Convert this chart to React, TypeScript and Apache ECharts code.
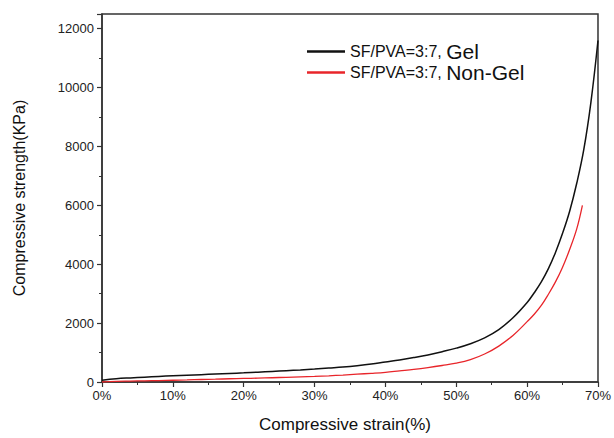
import React, { useEffect, useRef } from "react";
import * as echarts from "echarts";

const gelStrain = [0, 2, 4, 6, 8, 10, 12, 14, 16, 18, 20, 22, 24, 26, 28, 30, 32, 34, 36, 38, 40, 42, 44, 46, 48, 50, 52, 54, 56, 58, 60, 61, 62, 63, 64, 65, 66, 67, 68, 69, 70];
const gelStrength = [60, 110, 140, 165, 190, 210, 230, 250, 270, 290, 310, 335, 360, 385, 410, 440, 475, 510, 555, 610, 680, 750, 830, 920, 1030, 1150, 1300, 1500, 1780, 2180, 2700, 3030, 3400, 3850, 4400, 5050, 5800, 6750, 7900, 9500, 11600];

const nonGelStrain = [0, 2, 4, 6, 8, 10, 12, 14, 16, 18, 20, 22, 24, 26, 28, 30, 32, 34, 36, 38, 40, 42, 44, 46, 48, 50, 52, 54, 56, 58, 60, 61, 62, 63, 64, 65, 66, 67, 67.8];
const nonGelStrength = [0, 20, 30, 40, 50, 60, 70, 85, 95, 110, 120, 130, 145, 160, 175, 190, 210, 235, 265, 295, 330, 380, 430, 490, 560, 640, 760, 950, 1220, 1580, 2050, 2300, 2600, 2980, 3400, 3900, 4500, 5200, 6000];

const xTicks = { min: 0, max: 70, interval: 10 };
const yTicks = { min: 0, max: 12500, interval: 2000 };

const seriesNames = ["SF/PVA=3:7, Gel", "SF/PVA=3:7, Non-Gel"];

const FONT = "'Liberation Sans', Arial, Helvetica, sans-serif";

export default function App() {
  const ref = useRef<HTMLDivElement>(null);
  useEffect(() => {
    if (!ref.current) return;
    const chart = echarts.init(ref.current, undefined, { renderer: "svg" });
    const zip = (xs: number[], ys: number[]) => xs.map((x, i) => [x, ys[i]]);
    chart.setOption({
      animation: false,
      backgroundColor: "#ffffff",
      textStyle: { fontFamily: FONT },
      grid: {
        left: 102,
        right: 14,
        top: 14,
        bottom: 56,
        show: true,
        borderColor: "#333",
        borderWidth: 1.5,
      },
      legend: {
        left: 302,
        top: 36,
        orient: "vertical",
        itemGap: 0,
        itemWidth: 38,
        itemHeight: 10,
        icon: "path://M0,0 L1,0 L1,0.06 L0,0.06 Z",
        data: seriesNames,
        formatter: (name: string) => {
          const idx = name.indexOf(", ");
          return "{a|" + name.slice(0, idx + 1) + " }{b|" + name.slice(idx + 2) + "}";
        },
        textStyle: {
          rich: {
            a: { fontSize: 16, color: "#111", fontFamily: FONT },
            b: { fontSize: 21, color: "#111", fontFamily: FONT },
          },
        },
      },
      xAxis: {
        type: "value",
        min: xTicks.min,
        max: xTicks.max,
        interval: xTicks.interval,
        name: "Compressive strain(%)",
        nameLocation: "middle",
        nameGap: 34,
        nameTextStyle: { fontSize: 17, color: "#111", fontFamily: FONT, padding: [0, 0, 0, -10] },
        axisLine: { show: true, lineStyle: { color: "#333", width: 1.5 } },
        axisTick: { show: true, length: 5, lineStyle: { color: "#333", width: 1.2 } },
        minorTick: { show: true, splitNumber: 2, length: 3, lineStyle: { color: "#333", width: 1 } },
        splitLine: { show: false },
        axisLabel: { formatter: "{value}%", fontSize: 13, color: "#222", margin: 7, fontFamily: FONT },
      },
      yAxis: {
        type: "value",
        min: yTicks.min,
        max: yTicks.max,
        interval: yTicks.interval,
        name: "Compressive strength(KPa)",
        nameLocation: "middle",
        nameGap: 75,
        nameTextStyle: { fontSize: 16, color: "#111", fontFamily: FONT },
        axisLine: { show: true, lineStyle: { color: "#333", width: 1.5 } },
        axisTick: { show: true, length: 5, lineStyle: { color: "#333", width: 1.2 } },
        minorTick: { show: true, splitNumber: 2, length: 3, lineStyle: { color: "#333", width: 1 } },
        splitLine: { show: false },
        axisLabel: {
          showMaxLabel: false,
          formatter: (v: number) => String(v),
          fontSize: 13,
          color: "#222",
          margin: 8,
          fontFamily: FONT,
        },
      },
      series: [
        {
          name: seriesNames[0],
          type: "line",
          data: zip(gelStrain, gelStrength),
          smooth: 0.4,
          showSymbol: false,
          symbol: "none",
          lineStyle: { color: "#111", width: 1.5 },
          itemStyle: { color: "#111" },
        },
        {
          name: seriesNames[1],
          type: "line",
          data: zip(nonGelStrain, nonGelStrength),
          smooth: 0.4,
          showSymbol: false,
          symbol: "none",
          lineStyle: { color: "#e8252a", width: 1.3 },
          itemStyle: { color: "#e8252a" },
        },
      ],
    });
    return () => chart.dispose();
  }, []);
  return <div ref={ref} style={{ width: 614, height: 438, position: "absolute", left: 0, top: 0 }} />;
}
